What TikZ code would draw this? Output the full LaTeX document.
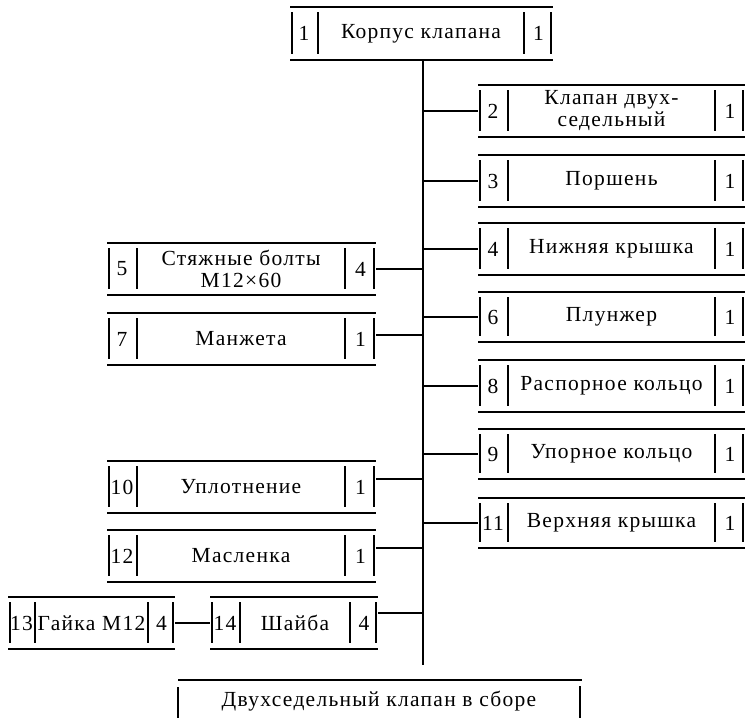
\documentclass[tikz,border=0pt]{standalone}
\usepackage{fontspec}
\setmainfont{Liberation Serif}[LetterSpace=6]
\tikzset{
  boxarea/.style={draw=none,inner sep=0pt,outer sep=0pt},
  hline/.style={line width=1.7pt},
  vbar/.style={line width=1.7pt},
  conn/.style={line width=1.8pt},
  trunk/.style={line width=1.9pt},
  lbl/.style={inner sep=0pt,align=center,font=\fontsize{21.5}{22}\selectfont}
}
\newcommand\abox[7]{%
  \node[boxarea,minimum width={(#4-#2)*1pt},minimum height={(#5-#3)*1pt},anchor=north west] (#1) at (#2,#3) {};
  \draw[hline] (#1.north west) -- (#1.north east) (#1.south west) -- (#1.south east);
  \draw[vbar] (#2+2,#3+5) -- (#2+2,#5-6) (#6,#3+5) -- (#6,#5-6) (#7,#3+5) -- (#7,#5-6) (#4-2,#3+5) -- (#4-2,#5-6);
  \coordinate (#1-a) at ({(#2+#6)/2},{(#3+#5)/2});
  \coordinate (#1-b) at ({(#6+#7)/2},{(#3+#5)/2});
  \coordinate (#1-c) at ({(#7+#4)/2},{(#3+#5)/2});
}
\newcommand\aboxtext[4]{%
  \node[lbl] (#1-num) at (#1-a) {#2};
  \node[lbl] (#1-txt) at (#1-b) {#3};
  \node[lbl] (#1-qty) at (#1-c) {#4};
}
\begin{document}
\begin{tikzpicture}[x=1pt,y=-1pt]
\useasboundingbox (0,0) rectangle (745,718);
% top
\abox{b1}{290}{7}{553}{60}{318}{524}
\aboxtext{b1}{1}{Корпус клапана}{1}
% right column
\abox{b2}{478}{85}{745}{137}{508}{715}
\aboxtext{b2}{2}{Клапан двух-\\седельный}{1}
\abox{b3}{478}{155}{745}{207}{508}{715}
\aboxtext{b3}{3}{Поршень}{1}
\abox{b4}{478}{223}{745}{275}{508}{715}
\aboxtext{b4}{4}{Нижняя крышка}{1}
\abox{b6}{478}{292}{745}{342}{508}{715}
\aboxtext{b6}{6}{Плунжер}{1}
\abox{b8}{478}{360}{745}{412}{508}{715}
\aboxtext{b8}{8}{Распорное кольцо}{1}
\abox{b9}{478}{429}{745}{479}{508}{715}
\aboxtext{b9}{9}{Упорное кольцо}{1}
\abox{b11}{478}{498}{745}{548}{508}{715}
\aboxtext{b11}{11}{Верхняя крышка}{1}
% left column
\abox{b5}{107}{243}{376}{295}{137}{345}
\aboxtext{b5}{5}{Стяжные болты\\M12×60}{4}
\abox{b7}{107}{313}{376}{365}{137}{345}
\aboxtext{b7}{7}{Манжета}{1}
\abox{b10}{107}{461}{376}{513}{137}{345}
\aboxtext{b10}{10}{Уплотнение}{1}
\abox{b12}{107}{530}{376}{582}{137}{345}
\aboxtext{b12}{12}{Масленка}{1}
\abox{b13}{8}{597}{175}{649}{35}{148}
\aboxtext{b13}{13}{Гайка M12}{4}
\abox{b14}{210}{597}{378}{649}{240}{350}
\aboxtext{b14}{14}{Шайба}{4}
% trunk
\coordinate (tT) at (423,60);
\coordinate (tB) at (423,665);
\draw[trunk] (tT) -- (tB);
% connectors right
\foreach \b in {b2,b3,b4,b6,b8,b9,b11}
  \draw[conn] (tT |- \b.west) -- (\b.west);
% connectors left
\draw[conn] (b5.east) -- (b5.east -| tT);
\draw[conn] ([yshift=4pt]b7.east) -- ([yshift=4pt]b7.east -| tT);
\draw[conn] ([yshift=8pt]b10.east) -- ([yshift=8pt]b10.east -| tT);
\draw[conn] ([yshift=8pt]b12.east) -- ([yshift=8pt]b12.east -| tT);
\draw[conn] ([yshift=10pt]b14.east) -- ([yshift=10pt]b14.east -| tT);
\draw[conn] (b13.east) -- (b14.west);
% final assembly
\coordinate (fL) at (178,680);
\coordinate (fR) at (582,680);
\draw[hline] (fL) -- (fR);
\draw[vbar] (178,687) -- (178,720) (580,686) -- (580,720);
\node[lbl] (fin) at (379,701) {Двухседельный клапан в сборе};
\end{tikzpicture}
\end{document}
